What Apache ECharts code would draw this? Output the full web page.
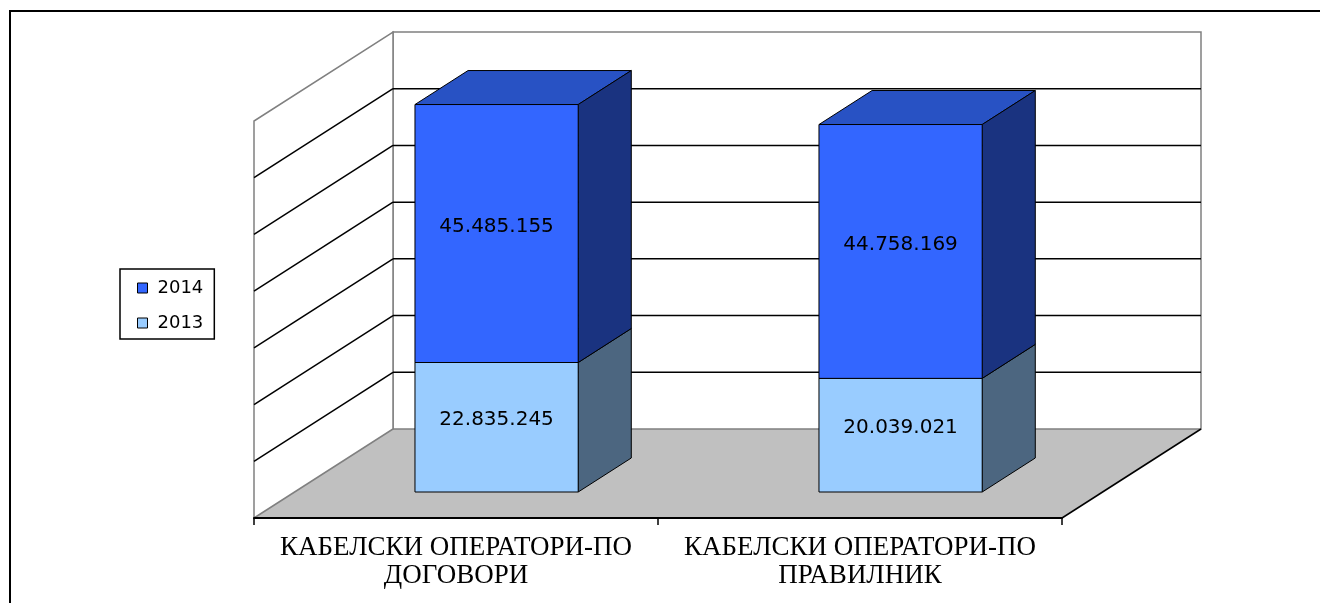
<!DOCTYPE html>
<html><head><meta charset="utf-8">
<script src="https://cdn.jsdelivr.net/npm/echarts@6/dist/echarts.min.js"></script>
<style>html,body{margin:0;padding:0;background:#fff}#c{width:1320px;height:603px}</style>
</head><body><div id="c"></div>
<script>
// ---- data ----
const categories = ['КАБЕЛСКИ ОПЕРАТОРИ-ПО\nДОГОВОРИ', 'КАБЕЛСКИ ОПЕРАТОРИ-ПО\nПРАВИЛНИК'];
const values2013 = [22835245, 20039021];
const values2014 = [45485155, 44758169];
const yTicks = [0, 10000000, 20000000, 30000000, 40000000, 50000000, 60000000, 70000000];
const legendNames = ['2014', '2013'];

// ---- 3D look (pixel styling) ----
const DX = 139, DY = 89;          // full floor depth
const F0 = 0.292, F1 = 0.674;     // bar front/back depth fractions
const BAR_W = 0.404;              // bar width as fraction of band
const GRAY = '#808080';

function fmt(v) { return String(Math.round(v)).replace(/\B(?=(\d{3})+(?!\d))/g, '.'); }

function makeBarRender(front, top, side) {
  return function (params, api) {
    const cat = api.value(0), lo = api.value(1), hi = api.value(2);
    const band = api.size([1, 0])[0];
    const w = band * BAR_W;
    const c0 = api.coord([cat, lo]), c1 = api.coord([cat, hi]);
    const ox0 = F0 * DX, oy0 = -F0 * DY;
    const ddx = (F1 - F0) * DX, ddy = -(F1 - F0) * DY;
    const xl = c0[0] - w / 2 + ox0, xr = c0[0] + w / 2 + ox0;
    const yb = c0[1] + oy0, yt = c1[1] + oy0;
    const st = { stroke: '#000', lineWidth: 1 };
    return {
      type: 'group',
      children: [
        { type: 'polygon', shape: { points: [[xl, yt], [xr, yt], [xr + ddx, yt + ddy], [xl + ddx, yt + ddy]] }, style: Object.assign({ fill: top }, st) },
        { type: 'polygon', shape: { points: [[xr, yt], [xr + ddx, yt + ddy], [xr + ddx, yb + ddy], [xr, yb]] }, style: Object.assign({ fill: side }, st) },
        { type: 'rect', shape: { x: xl, y: yt, width: xr - xl, height: yb - yt }, style: Object.assign({ fill: front }, st) },
        { type: 'text', x: (xl + xr) / 2, y: (yt + yb) / 2 - 7,
          style: { text: fmt(hi - lo), fill: '#000', font: '20px "DejaVu Sans"', align: 'center', verticalAlign: 'middle' } }
      ]
    };
  };
}

function renderWalls(params, api) {
  const cs = params.coordSys;
  const x0 = cs.x, x1 = cs.x + cs.width;
  const yZero = api.coord([0, yTicks[0]])[1];
  const yMax = api.coord([0, yTicks[yTicks.length - 1]])[1];
  const ch = [];
  ch.push({ type: 'polygon', shape: { points: [[x0, yZero], [x1, yZero], [x1 + DX, yZero - DY], [x0 + DX, yZero - DY]] },
    style: { fill: '#C0C0C0', stroke: null } });
  ch.push({ type: 'rect', shape: { x: x0 + DX, y: yMax - DY, width: x1 - x0, height: yZero - yMax },
    style: { fill: '#fff', stroke: GRAY, lineWidth: 1.5 } });
  ch.push({ type: 'polygon', shape: { points: [[x0, yZero], [x0 + DX, yZero - DY], [x0 + DX, yMax - DY], [x0, yMax]] },
    style: { fill: '#fff', stroke: GRAY, lineWidth: 1.5 } });
  for (let i = 1; i < yTicks.length - 1; i++) {
    const y = api.coord([0, yTicks[i]])[1];
    ch.push({ type: 'line', shape: { x1: x0 + DX, y1: y - DY, x2: x1 + DX, y2: y - DY }, style: { stroke: '#000', lineWidth: 1.5 } });
    ch.push({ type: 'line', shape: { x1: x0, y1: y, x2: x0 + DX, y2: y - DY }, style: { stroke: '#000', lineWidth: 1.5 } });
  }
  ch.push({ type: 'line', shape: { x1: x1, y1: yZero, x2: x1 + DX, y2: yZero - DY }, style: { stroke: '#000', lineWidth: 1.5 } });
  return { type: 'group', children: ch };
}

const chart = echarts.init(document.getElementById('c'), null, { renderer: 'canvas' });
chart.setOption({
  animation: false,
  backgroundColor: '#fff',
  graphic: [{ type: 'rect', shape: { x: 10, y: 11, width: 1400, height: 700 }, style: { fill: null, stroke: '#000', lineWidth: 2 }, z: 100 }],
  grid: { left: 254, right: 258, top: 121, bottom: 85 },
  legend: {
    data: legendNames, orient: 'vertical', left: 120, top: 269,
    padding: [9, 11, 6, 17], itemGap: 15, itemWidth: 10, itemHeight: 10,
    borderColor: '#000', borderWidth: 1.5, icon: 'rect',
    itemStyle: { borderColor: '#000', borderWidth: 1 },
    textStyle: { fontFamily: 'DejaVu Sans', fontSize: 18, color: '#000', lineHeight: 20, padding: [0, 0, 0, 5] }
  },
  xAxis: {
    type: 'category', data: categories, boundaryGap: true, z: 10,
    axisLine: { lineStyle: { color: '#000', width: 2 } },
    axisTick: { show: true, length: 7, lineStyle: { color: '#000', width: 1.5 } },
    axisLabel: { interval: 0, margin: 16, color: '#000', fontFamily: 'Liberation Serif', fontSize: 27, lineHeight: 28 },
    splitLine: { show: false }
  },
  yAxis: { type: 'value', min: yTicks[0], max: yTicks[yTicks.length - 1], interval: 10000000, show: false },
  series: [
    { type: 'custom', name: 'walls', z: 1, renderItem: renderWalls, data: [[0, 0]], encode: { x: 0, y: 1 }, silent: true },
    { type: 'custom', name: '2013', z: 2, renderItem: makeBarRender('#99CCFF', '#7AA3CC', '#4C6680'),
      itemStyle: { color: '#99CCFF', borderColor: '#000', borderWidth: 1 },
      data: categories.map((c, i) => [i, 0, values2013[i]]), encode: { x: 0, y: [1, 2] } },
    { type: 'custom', name: '2014', z: 3, renderItem: makeBarRender('#3366FF', '#2852C4', '#1A3380'),
      itemStyle: { color: '#3366FF', borderColor: '#000', borderWidth: 1 },
      data: categories.map((c, i) => [i, values2013[i], values2013[i] + values2014[i]]), encode: { x: 0, y: [1, 2] } }
  ]
});
</script></body></html>
